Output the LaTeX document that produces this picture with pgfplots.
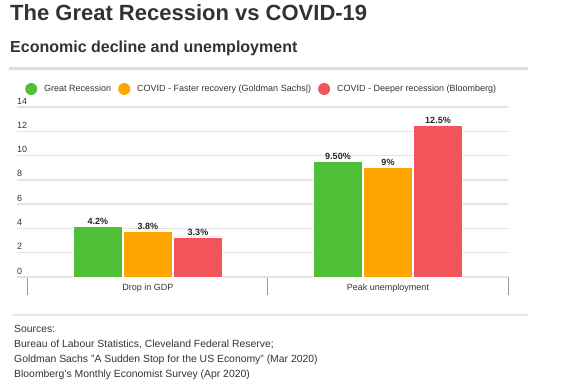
\documentclass[border=0pt]{standalone}
\usepackage{pgfplots}
\pgfplotsset{compat=1.18}
\usepackage{fontspec}
\setmainfont{Liberation Sans}
\definecolor{cgreen}{HTML}{4FBF37}
\definecolor{corange}{HTML}{FFA600}
\definecolor{cred}{HTML}{F2545B}
\definecolor{ctext}{HTML}{333333}
\definecolor{cgrid}{HTML}{E3E3E3}
\definecolor{crule}{HTML}{DDDDDD}
\begin{document}
\begin{tikzpicture}
\path[use as bounding box] (0,0) rectangle (573pt,-385pt);
\node[anchor=base west, inner sep=0pt, text=ctext, font=\bfseries\fontsize{22}{26}\selectfont] at (10pt,-21pt) {The Great Recession vs COVID-19};
\node[anchor=base west, inner sep=0pt, text=ctext, font=\bfseries\fontsize{16}{19}\selectfont] at (10pt,-53pt) {Economic decline and unemployment};
\draw[crule, line width=3pt] (9pt,-69pt) -- (528pt,-69pt);
\begin{axis}[
  at={(17pt,-277pt)}, anchor=south west,
  scale only axis, width=491pt, height=170pt,
  xmin=-0.5458, xmax=1.5, ymin=0, ymax=14,
  ybar=1pt, bar width=49pt,
  axis line style={draw=none},
  xtick={0,1}, xticklabels={Drop in GDP, Peak unemployment},
  xtick pos=bottom, ytick pos=left,
  ytick={0,2,...,14},
  /pgf/number format/assume math mode=true,
  ymajorgrids, major grid style={draw=cgrid, line width=1.3pt},
  major tick length=0pt,
  tick style={draw=none},
  extra y ticks={0}, extra y tick labels={},
  extra y tick style={grid style={draw=black!65, line width=1pt}},
  extra x ticks={-0.5,0.5,1.5}, extra x tick labels={},
  extra x tick style={tick style={draw=black!40, line width=1pt}, major tick length=18pt, tick align=outside, grid=none},
  ticklabel style={font=\fontsize{9}{10}\selectfont, text=ctext},
  yticklabel style={anchor=base west, inner sep=0pt, yshift=3pt},
  xticklabel style={anchor=base, inner sep=0pt, yshift=-13pt},
  nodes near coords,
  point meta=explicit symbolic,
  every node near coord/.append style={font=\bfseries\fontsize{9}{10}\selectfont, text=black!85, inner sep=1.5pt},
  legend columns=3,
  legend image code/.code={\fill[#1,draw=none] (6pt,0pt) circle (6pt);},
  legend style={draw=none, fill=none, inner sep=0pt, at={(0.0163,1.106)}, anchor=west,
    font=\fontsize{9}{10}\selectfont, text=ctext,
    nodes={inner sep=0pt},
    /tikz/column sep=7pt},
]
\addplot[fill=cgreen, draw=white, line width=0.5pt] coordinates {(0,4.2) [4.2\%] (1,9.5) [9.50\%]};
\addlegendentry{Great Recession}
\addplot[fill=corange, draw=white, line width=0.5pt] coordinates {(0,3.8) [3.8\%] (1,9) [9\%]};
\addlegendentry{COVID - Faster recovery (Goldman Sachs|)}
\addplot[fill=cred, draw=white, line width=0.5pt] coordinates {(0,3.3) [3.3\%] (1,12.5) [12.5\%]};
\addlegendentry{COVID - Deeper recession (Bloomberg)}
\end{axis}
\draw[crule!70, line width=1.5pt] (12pt,-315pt) -- (528pt,-315pt);
\begin{scope}[every node/.style={anchor=base west, inner sep=0pt, text=ctext, font=\fontsize{10.4}{12}\selectfont}]
\node at (14pt,-332pt) {Sources:};
\node at (14pt,-347pt) {Bureau of Labour Statistics, Cleveland Federal Reserve;};
\node at (14pt,-362pt) {Goldman Sachs "A Sudden Stop for the US Economy" (Mar 2020)};
\node at (14pt,-377pt) {Bloomberg's Monthly Economist Survey (Apr 2020)};
\end{scope}
\end{tikzpicture}
\end{document}
